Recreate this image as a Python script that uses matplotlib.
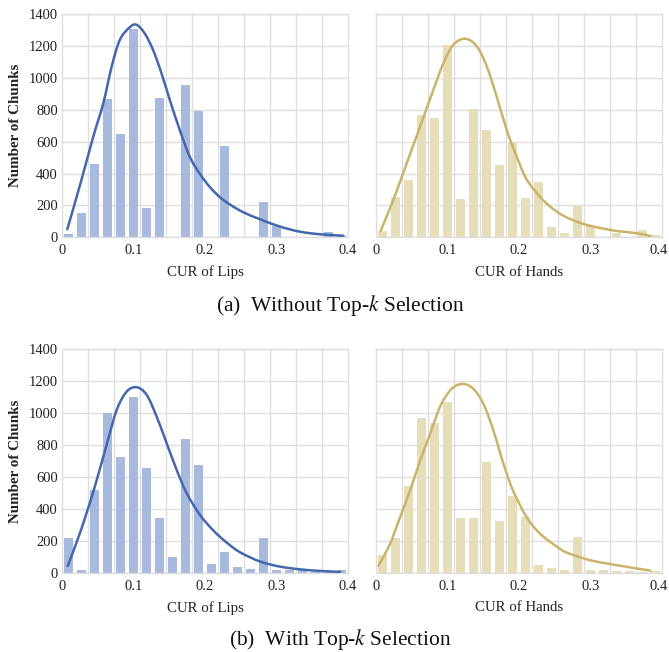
import numpy as np
import matplotlib
matplotlib.use("Agg")
import matplotlib.pyplot as plt
import matplotlib.transforms as mtransforms
from matplotlib.ticker import FixedLocator
from matplotlib.path import Path
from matplotlib.patches import PathPatch

plt.rcParams['font.family'] = ['Liberation Serif', 'DejaVu Serif']
plt.rcParams['mathtext.fontset'] = 'stix'

# ---- data ----
n_bins = 22
bin_edges = np.linspace(0.0, 0.4, n_bins + 1)

lips_a = [20, 151, 460, 868, 648, 1307, 184, 875, 0, 954, 793, 0, 571, 0, 0, 224, 70, 0, 0, 0, 36, 14]
hands_a = [40, 251, 360, 768, 749, 1207, 240, 803, 672, 452, 592, 247, 348, 67, 29, 197, 70, 5, 25, 0, 46, 17]
lips_b = [215, 19, 518, 1003, 727, 1103, 654, 340, 98, 838, 677, 55, 130, 35, 24, 219, 16, 16, 14, 7, 5, 18]
hands_b = [113, 217, 541, 972, 938, 1070, 343, 343, 696, 326, 483, 351, 46, 32, 19, 225, 14, 18, 9, 13, 7, 13]

lips_a_cx = [0.0074, 0.0266, 0.0438, 0.0578, 0.0695, 0.081, 0.0951, 0.1044, 0.116, 0.1277, 0.1394,
             0.151, 0.165, 0.179, 0.193, 0.207, 0.221, 0.235, 0.2536, 0.277, 0.305, 0.333, 0.361, 0.393]
lips_a_cy = [50, 350, 632, 841, 1071, 1239, 1318, 1332, 1276, 1171, 1025,
             858, 669, 502, 397, 314, 251, 205, 157, 113, 67, 35, 19, 10]

hands_a_cx = [0.007, 0.0246, 0.0434, 0.062, 0.0806, 0.0946, 0.1086, 0.125, 0.1413, 0.1552, 0.169,
              0.183, 0.197, 0.211, 0.23, 0.244, 0.262, 0.29, 0.328, 0.365, 0.384]
hands_a_cy = [42, 234, 465, 694, 925, 1092, 1207, 1245, 1197, 1071, 883,
              674, 506, 362, 252, 192, 136, 84, 46, 25, 8]

lips_b_cx = [0.008, 0.0266, 0.0452, 0.063, 0.0765, 0.0905, 0.1045, 0.1185, 0.1324, 0.1464, 0.1604,
             0.1744, 0.193, 0.2116, 0.23, 0.249, 0.277, 0.305, 0.333, 0.361, 0.389]
lips_b_cy = [42, 268, 529, 811, 1020, 1135, 1162, 1114, 978, 811, 644,
             498, 362, 265, 190, 128, 70, 38, 21, 11, 5]

hands_b_cx = [0.004, 0.02, 0.034, 0.048, 0.062, 0.076, 0.0876, 0.097, 0.1085, 0.1225, 0.1365,
              0.1505, 0.1645, 0.1785, 0.192, 0.211, 0.23, 0.258, 0.272, 0.2997, 0.328, 0.356, 0.384]
hands_b_cy = [44, 180, 347, 514, 702, 870, 1016, 1099, 1162, 1183, 1152,
              1058, 890, 682, 514, 347, 243, 148, 117, 78, 54, 33, 13]

y_ticks = [0, 200, 400, 600, 800, 1000, 1200, 1400]
x_ticks = [0, 0.1, 0.2, 0.3, 0.4]
x_tick_labels = ['0', '0.1', '0.2', '0.3', '0.4']

lips_bar_color = '#a7b9dc'
lips_line_color = '#4467ad'
hands_bar_color = '#e6ddb9'
hands_line_color = '#c9b46b'
grid_color = '#dedede'

W, H = 669, 652
fig = plt.figure(figsize=(W / 100, H / 100), dpi=100)


def make_ax(left, top, right, bottom):
    return fig.add_axes([left / W, 1 - bottom / H, (right - left) / W, (bottom - top) / H])


def smooth_path(xs, ys):
    # Catmull-Rom through the read points, drawn as cubic Bezier segments by matplotlib
    p = np.column_stack([xs, ys]).astype(float)
    ext = np.vstack([p[0], p, p[-1]])
    verts = [tuple(p[0])]
    codes = [Path.MOVETO]
    for i in range(1, len(ext) - 2):
        p0, p1, p2, p3 = ext[i - 1], ext[i], ext[i + 1], ext[i + 2]
        c1 = p1 + (p2 - p0) / 6.0
        c2 = p2 - (p3 - p1) / 6.0
        verts += [tuple(c1), tuple(c2), tuple(p2)]
        codes += [Path.CURVE4] * 3
    return Path(verts, codes)


def draw(ax, counts, cx, cy, bar_c, line_c, xlabel, ylabel):
    centers = 0.5 * (bin_edges[:-1] + bin_edges[1:])
    width = (bin_edges[1] - bin_edges[0]) * 0.67
    ax.bar(centers, counts, width=width, color=bar_c, zorder=2, linewidth=0)
    ax.add_patch(PathPatch(smooth_path(cx, cy), facecolor='none', edgecolor=line_c,
                           lw=1.8, zorder=3, capstyle='round'))
    ax.set_xlim(0, 0.4)
    ax.set_ylim(0, 1400)
    ax.xaxis.set_major_locator(FixedLocator(x_ticks))
    ax.set_xticklabels(x_tick_labels)
    ax.xaxis.set_minor_locator(FixedLocator(list(np.linspace(0, 0.4, 12))))
    ax.yaxis.set_major_locator(FixedLocator(y_ticks))
    ax.grid(False)
    ax.grid(True, which='minor', axis='x', color=grid_color, lw=1.0, zorder=0)
    ax.grid(True, which='major', axis='y', color=grid_color, lw=1.0, zorder=0)
    ax.set_axisbelow(True)
    ax.tick_params(which='both', length=0, labelsize=10.5, colors='#222222')
    ax.tick_params(axis='x', pad=5)
    ax.tick_params(axis='y', pad=3)
    for s in ax.spines.values():
        s.set_color(grid_color)
        s.set_linewidth(1.0)
    ax.set_xlabel(xlabel, fontsize=10.7, labelpad=6, color='#222222')
    if ylabel:
        ax.set_ylabel(ylabel, fontsize=10.8, fontweight='bold', labelpad=5, color='#222222')
    else:
        ax.set_yticklabels([])
        # keep the last x label inside the figure edge
        lab = ax.get_xticklabels()[-1]
        lab.set_transform(lab.get_transform() + mtransforms.ScaledTranslation(-3 / 100, 0, fig.dpi_scale_trans))


ax1 = make_ax(62, 14, 348, 237.3)
draw(ax1, lips_a, lips_a_cx, lips_a_cy, lips_bar_color, lips_line_color, 'CUR of Lips', 'Number of Chunks')
ax2 = make_ax(375.7, 14, 662, 237.3)
draw(ax2, hands_a, hands_a_cx, hands_a_cy, hands_bar_color, hands_line_color, 'CUR of Hands', None)
ax3 = make_ax(62, 349.3, 348, 572.7)
draw(ax3, lips_b, lips_b_cx, lips_b_cy, lips_bar_color, lips_line_color, 'CUR of Lips', 'Number of Chunks')
ax4 = make_ax(375.7, 349.3, 662, 572.7)
draw(ax4, hands_b, hands_b_cx, hands_b_cy, hands_bar_color, hands_line_color, 'CUR of Hands', None)

fig.text(340 / W, 1 - 306 / H, '(a)  Without Top-$k$ Selection', ha='center', va='center', fontsize=15.5, color='#111111')
fig.text(340 / W, 1 - 640 / H, '(b)  With Top-$k$ Selection', ha='center', va='center', fontsize=15.5, color='#111111')

fig.savefig('out.png', dpi=100)
